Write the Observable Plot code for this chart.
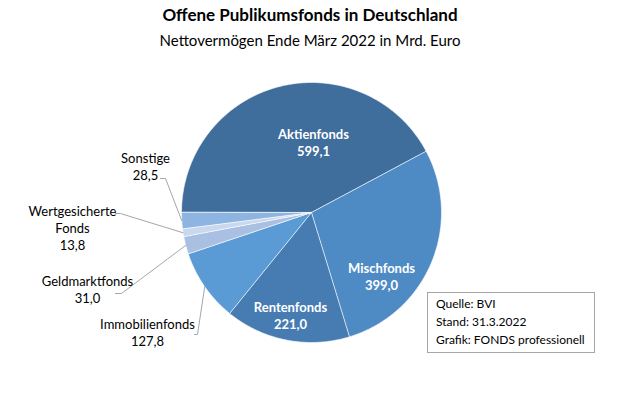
<!DOCTYPE html>
<html>
<head>
<meta charset="utf-8">
<script src="https://cdn.jsdelivr.net/npm/d3@7"></script>
<script src="https://cdn.jsdelivr.net/npm/@observablehq/plot@0.6"></script>
<style>
  html, body { margin: 0; padding: 0; background: #fff; }
  #wrap { position: relative; width: 620px; height: 413px; font-family: Lato, "Open Sans", sans-serif; color: #000; }
  .title { height: 29px; line-height: 30px; text-align: center; font-weight: bold; font-size: 17px; }
  .subtitle { height: 26px; line-height: 22px; text-align: center; font-size: 15px; }
  .box { position: absolute; left: 427px; top: 292px; border: 1px solid #a6a6a6;
         box-sizing: content-box; padding: 2px 0 0 8px; font-size: 12px; line-height: 18px; }
  .box div { white-space: nowrap; }
  svg { display: block; }
</style>
</head>
<body>
<div id="wrap">
  <div class="title">Offene Publikumsfonds in Deutschland</div>
  <div class="subtitle">Nettovermögen Ende März 2022 in Mrd. Euro</div>
  <div id="chart"></div>
  <div class="box" style="width:158px;height:57px;">
    <div>Quelle: BVI</div>
    <div>Stand: 31.3.2022</div>
    <div>Grafik: FONDS professionell</div>
  </div>
</div>
<script>
// ---- data ----
const categories = ["Aktienfonds", "Mischfonds", "Rentenfonds", "Immobilienfonds", "Geldmarktfonds", "Wertgesicherte Fonds", "Sonstige"];
const values = [599.1, 399.0, 221.0, 127.8, 31.0, 13.8, 28.5];
const valueLabels = ["599,1", "399,0", "221,0", "127,8", "31,0", "13,8", "28,5"];
const labelNames = ["Aktienfonds", "Mischfonds", "Rentenfonds", "Immobilienfonds", "Geldmarktfonds", "Wertgesicherte\nFonds", "Sonstige"];
const colors = ["#3f6d9c", "#4e8bc5", "#477cb2", "#5b9bd5", "#a9c0e2", "#c9d8ee", "#8eb4e2"];

// ---- layout (pixels relative to the pie centre, y up) ----
const R = 130;
const inside = {Aktienfonds: [2, 70.5], Mischfonds: [70, -64], Rentenfonds: [-21, -102.5]};
const outside = {
  "Sonstige":             {text: [-166, 46.5],  elbow: [-146, 34],  end: [-151, 34]},
  "Wertgesicherte Fonds": {text: [-239, -15],   elbow: [-191, -1],  end: [-196, -1]},
  "Geldmarktfonds":       {text: [-224, -77],   elbow: [-190, -81], end: [-196, -81]},
  "Immobilienfonds":      {text: [-164, -119.5],elbow: [-114, -122],end: [-117, -122]}
};

const arcs = d3.pie().sort(null).startAngle(-Math.PI / 2).endAngle(3 * Math.PI / 2)(values);

const slicePts = [];
arcs.forEach((a, i) => {
  const cat = categories[i];
  slicePts.push({cat, x: 0, y: 0});
  const n = Math.max(2, Math.ceil((a.endAngle - a.startAngle) / (Math.PI / 360)) + 1);
  for (let k = 0; k < n; k++) {
    const t = a.startAngle + (a.endAngle - a.startAngle) * k / (n - 1);
    slicePts.push({cat, x: R * Math.sin(t), y: R * Math.cos(t)});
  }
});

const innerLabels = [];
const outerLabels = [];
const leaders = [];
arcs.forEach((a, i) => {
  const cat = categories[i];
  const txt = labelNames[i] + "\n" + valueLabels[i];
  if (inside[cat]) {
    innerLabels.push({x: inside[cat][0], y: inside[cat][1], text: txt});
  } else if (outside[cat]) {
    const o = outside[cat];
    outerLabels.push({x: o.text[0], y: o.text[1], text: txt});
    const m = (a.startAngle + a.endAngle) / 2;
    leaders.push({cat, x: R * Math.sin(m), y: R * Math.cos(m)});
    leaders.push({cat, x: o.elbow[0], y: o.elbow[1]});
    leaders.push({cat, x: o.end[0], y: o.end[1]});
  }
});

const chart = Plot.plot({
  width: 620,
  height: 358,
  margin: 0,
  x: {domain: [-311, 309], range: [0, 620], axis: null},
  y: {domain: [-201, 157], range: [358, 0], axis: null},
  color: {domain: categories, range: colors},
  style: {fontFamily: "Lato, 'Open Sans', sans-serif", background: "white"},
  marks: [
    Plot.line(slicePts, {x: "x", y: "y", z: "cat", fill: "cat", stroke: "white", strokeWidth: 0.8, strokeOpacity: 0.8, curve: "linear-closed"}),
    Plot.line(leaders, {x: "x", y: "y", z: "cat", stroke: "#a6a6a6", strokeWidth: 1}),
    Plot.text(innerLabels, {x: "x", y: "y", text: "text", fill: "white", fontWeight: "bold", fontSize: 13, lineHeight: 1.3}),
    Plot.text(outerLabels, {x: "x", y: "y", text: "text", fill: "black", fontSize: 13, lineHeight: 1.3})
  ]
});
document.getElementById("chart").appendChild(chart);
</script>
</body>
</html>
